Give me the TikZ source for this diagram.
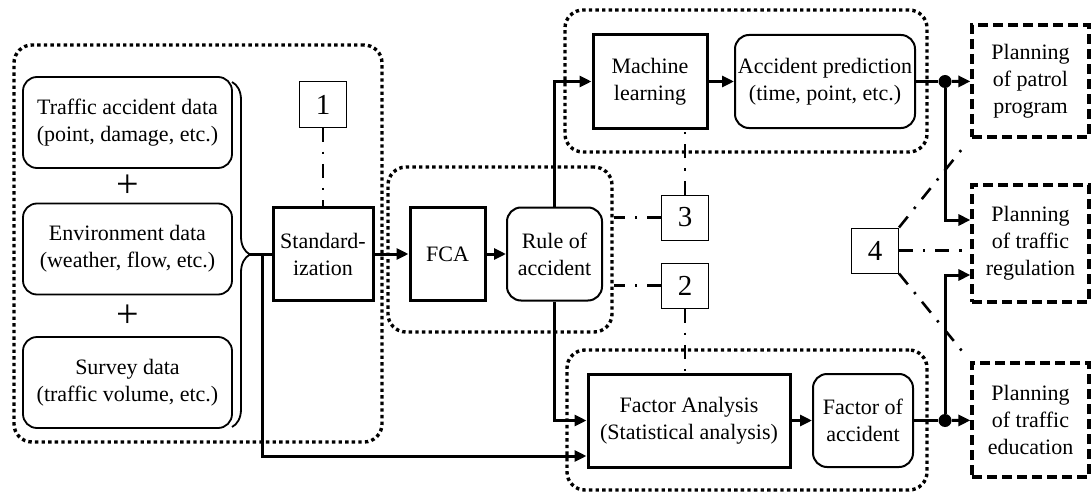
\documentclass[tikz,border=0pt]{standalone}
\usepackage{fontspec}
\setmainfont{Liberation Serif}
\usepackage{tikz}
\usetikzlibrary{calc}
\usetikzlibrary{arrows.meta}
\usetikzlibrary{decorations.pathreplacing}
\tikzstyle{every node}=[font=\fontsize{11}{13.5}\selectfont, align=center, inner sep=0pt]
\tikzstyle{databox}=[draw, line width=0.9pt, rounded corners=7pt, minimum width=104.5pt, minimum height=45.5pt]
\tikzstyle{sqbox}=[draw, line width=1.5pt, minimum height=46.5pt]
\tikzstyle{rndbox}=[draw, line width=1pt, rounded corners=7pt, minimum height=46.5pt]
\tikzstyle{numbox}=[draw, line width=0.5pt, minimum width=23.5pt, minimum height=22.5pt, font=\fontsize{14.5}{14.5}\selectfont]
\tikzstyle{planbox}=[draw, line width=1.6pt, dash pattern=on 5pt off 2.5pt, minimum width=58.5pt]
\tikzstyle{groupbox}=[draw, line width=1.7pt, dash pattern=on 1.7pt off 1.6pt, rounded corners=9pt]
\tikzstyle{conn}=[line width=1.5pt]
\tikzstyle{numlink}=[line width=1.3pt, dash pattern=on 7pt off 5pt on 1.2pt off 5pt]
\tikzstyle{joint}=[circle, fill, minimum size=6.5pt]

\begin{document}
\begin{tikzpicture}[x=0.5pt, y=-0.5pt, >={Triangle[length=6pt,width=5.5pt]}]
            \useasboundingbox (0,0) rectangle (1091,492);
            \node[groupbox, minimum width=184pt, minimum height=198.5pt] (g1) at (198,243.5) {};
            \node[groupbox, minimum width=112pt, minimum height=82.5pt] (g2) at (500,249.5) {};
            \node[groupbox, minimum width=181pt, minimum height=71pt] (g3) at (746,81) {};
            \node[groupbox, minimum width=180pt, minimum height=70pt] (g4) at (747,420) {};

            \node[databox] (tad) at (127.5,122.5) {Traffic accident data\\(point, damage, etc.)};
            \node[font=\fontsize{20}{20}\selectfont] (plus1) at (128,186) {+};
            \node[databox] (env) at (127.5,249) {Environment data\\(weather, flow, etc.)};
            \node[font=\fontsize{20}{20}\selectfont] (plus2) at (128,316) {+};
            \node[databox] (sur) at (127.5,382.5) {Survey data\\(traffic volume, etc.)};
            \draw[decorate, decoration={brace, amplitude=9pt}, line width=0.9pt] (232,82) -- (232,427);
            \coordinate (brtip) at (250,254);
            \coordinate (split) at (262,254);

            \node[numbox] (n1) at (323,104.5) {1};
            \node[sqbox, minimum width=50pt] (std) at (323,254) {Standard-\\ization};
            \node[sqbox, minimum width=37.5pt] (fca) at (447.5,254) {FCA};
            \node[rndbox, minimum width=47.5pt] (rule) at (554.5,254) {Rule of\\accident};
            \node[sqbox, minimum width=57pt] (ml) at (650,81.5) {Machine\\learning};
            \node[rndbox, minimum width=90pt] (ap) at (825,81.5) {Accident prediction\\(time, point, etc.)};
            \node[sqbox, minimum width=101pt] (fa) at (689,420.5) {Factor Analysis\\(Statistical analysis)};
            \node[rndbox, minimum width=50pt] (foa) at (863,420.5) {Factor of\\accident};
            \node[numbox] (n3) at (685,217.5) {3};
            \node[numbox] (n2) at (685,285.5) {2};
            \node[numbox] (n4) at (875,250.5) {4};
            \node[planbox, minimum height=56pt] (pp) at (1030.5,81) {Planning\\of patrol\\program};
            \node[planbox, minimum height=58.5pt] (pr) at (1030.5,243.5) {Planning\\of traffic\\regulation};
            \node[planbox, minimum height=57pt] (pe) at (1030.5,420) {Planning\\of traffic\\education};
            \node[joint] (d1) at (945,81.5) {};
            \node[joint] (d2) at (945,420.5) {};

            \draw[conn] (brtip) -- (std);
            \draw[conn,->] (split) |- ($(fa.west)+(0,35.5)$);
            \draw[conn,->] (std) -- (fca);
            \draw[conn,->] (fca) -- (rule);
            \draw[conn,->] (rule.north) |- (ml.west);
            \draw[conn,->] (rule.south) |- (fa.west);
            \draw[conn,->] (ml) -- (ap);
            \draw[conn,->] (fa) -- (foa);
            \draw[conn] (ap) -- (d1);
            \draw[conn,->] (d1) -- (pp);
            \draw[conn,->] (d1) |- ($(pr.west)+(0,-23.5)$);
            \draw[conn] (foa) -- (d2);
            \draw[conn,->] (d2) -- (pe);
            \draw[conn,->] (d2) |- ($(pr.west)+(0,31.5)$);

            \draw[numlink] (n1) -- (std);
            \draw[numlink] (n3) -- (n3 |- ml.south);
            \draw[numlink] (n3) -- (n3 -| g2.east);
            \draw[numlink] (n2) -- (n2 -| g2.east);
            \draw[numlink] (n2) -- (n2 |- fa.north);
            \draw[numlink, shorten >=4pt] (n4.north east) -- (pp.south west);
            \draw[numlink] (n4) -- (n4 -| pr.west);
            \draw[numlink, shorten >=4pt] (n4.south east) -- (pe.north west);
        \end{tikzpicture}
\end{document}
